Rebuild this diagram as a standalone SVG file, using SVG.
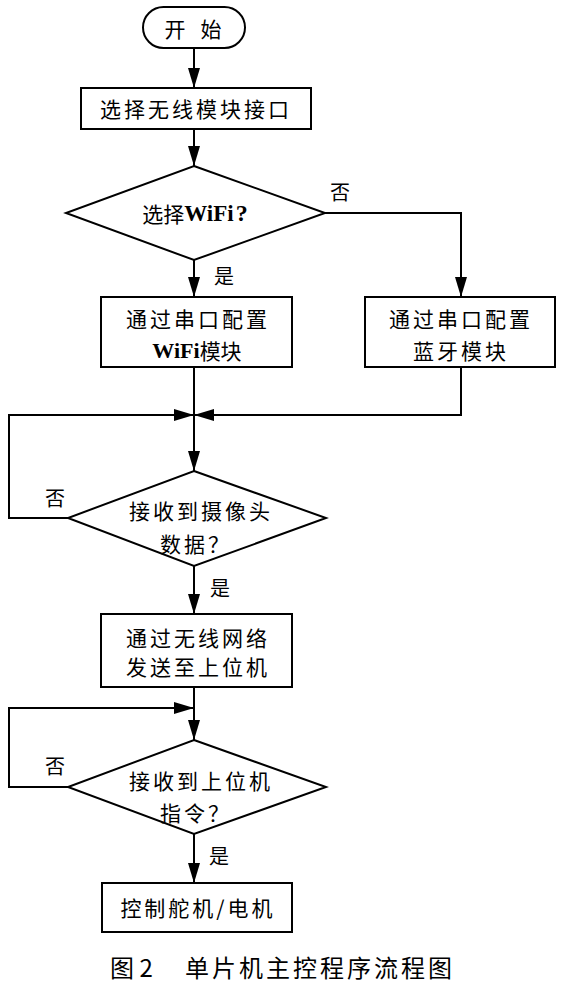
<svg xmlns="http://www.w3.org/2000/svg" width="565" height="984" viewBox="0 0 565 984">
<defs>
<marker id="ah" markerUnits="userSpaceOnUse" markerWidth="20" markerHeight="12" refX="20" refY="6" orient="auto">
<path d="M0,0 L20,6 L0,12 z" fill="#000"/>
</marker>
<style>
.shape{fill:#fff;stroke:#000;stroke-width:2}
.conn{fill:none;stroke:#000;stroke-width:2;marker-end:url(#ah)}
.t{font-family:"Noto Sans CJK SC","Noto Sans",sans-serif;font-size:21px;letter-spacing:3px;fill:#000;text-anchor:middle;dominant-baseline:central}
.lbl{font-family:"Noto Sans CJK SC","Noto Sans",sans-serif;font-size:20px;fill:#000;text-anchor:middle;dominant-baseline:central}
.b{font-family:"Liberation Serif",serif;font-weight:bold;letter-spacing:0}
.cap{font-family:"Noto Sans CJK SC","Noto Sans",sans-serif;font-size:24px;fill:#000;dominant-baseline:central}
</style>
</defs>
<rect width="565" height="984" fill="#fff"/>
<g id="connectors">
<path class="conn" d="M194,48 V88"/>
<path class="conn" d="M194,129 V166"/>
<path class="conn" d="M194,260 V297"/>
<path class="conn" d="M325,213 H461 V297"/>
<path class="conn" d="M194,367 V471"/>
<path class="conn" d="M461,367 V415 H194"/>
<path class="conn" d="M68,518 H9 V415 H194"/>
<path class="conn" d="M194,566 V614"/>
<path class="conn" d="M194,687 V740"/>
<path class="conn" d="M68,787 H9 V708 H194"/>
<path class="conn" d="M194,834 V883"/>
<text class="lbl" x="340" y="191">否</text>
<text class="lbl" x="224" y="275">是</text>
<text class="lbl" x="55" y="497">否</text>
<text class="lbl" x="220" y="587">是</text>
<text class="lbl" x="55" y="765">否</text>
<text class="lbl" x="219" y="855">是</text>
</g>
<g id="start">
<rect class="shape" x="143" y="7" width="102" height="41" rx="20.5"/>
<text class="t" y="28" style="letter-spacing:0"><tspan x="175">开</tspan><tspan x="211">始</tspan></text>
</g>
<g id="select-interface">
<rect class="shape" x="81" y="88" width="230" height="41"/>
<text class="t" x="196" y="108">选择无线模块接口</text>
</g>
<g id="is-wifi">
<polygon class="shape" points="194,166 325,213 194,260 66,213"/>
<text class="t" x="195" y="213" style="letter-spacing:0">选择<tspan class="b" font-size="23">WiFi</tspan><tspan class="b" font-size="24" dx="2">?</tspan></text>
</g>
<g id="config-wifi">
<rect class="shape" x="101" y="297" width="191" height="70"/>
<text class="t" x="198" y="318">通过串口配置</text>
<text class="t" x="197" y="350" style="letter-spacing:0"><tspan class="b" font-size="22">WiFi</tspan>模块</text>
</g>
<g id="config-bt">
<rect class="shape" x="365" y="297" width="190" height="70"/>
<text class="t" x="461" y="318">通过串口配置</text>
<text class="t" x="461" y="350">蓝牙模块</text>
</g>
<g id="camera-data">
<polygon class="shape" points="194,471 326,518 194,566 68,518"/>
<text class="t" x="201" y="510">接收到摄像头</text>
<text class="t" x="196" y="543">数据？</text>
</g>
<g id="send-host">
<rect class="shape" x="101" y="614" width="191" height="73"/>
<text class="t" x="198" y="637">通过无线网络</text>
<text class="t" x="198" y="666">发送至上位机</text>
</g>
<g id="host-cmd">
<polygon class="shape" points="194,740 326,787 194,834 68,787"/>
<text class="t" x="201" y="780">接收到上位机</text>
<text class="t" x="196" y="812">指令？</text>
</g>
<g id="control">
<rect class="shape" x="102" y="883" width="190" height="49"/>
<text class="t" x="198" y="907">控制舵机/电机</text>
</g>
<g id="caption">
<text class="cap" x="110" y="966">图 2</text>
<text class="cap" x="185" y="966" style="letter-spacing:3px">单片机主控程序流程图</text>
</g>
</svg>
